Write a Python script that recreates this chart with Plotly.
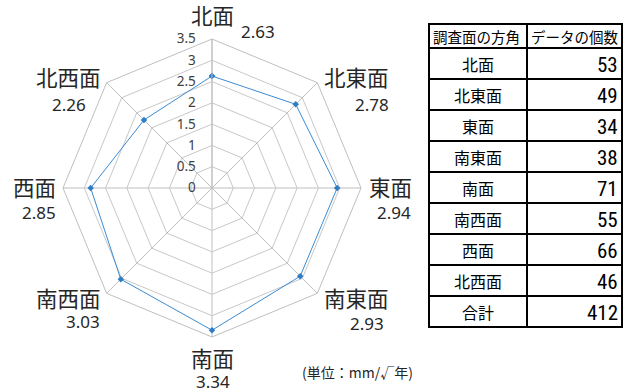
import plotly.graph_objects as go

# ---- data ----
directions = ["北面", "北東面", "東面", "南東面", "南面", "南西面", "西面", "北西面"]
rate_values = [2.63, 2.78, 2.94, 2.93, 3.34, 3.03, 2.85, 2.26]
data_counts = [53, 49, 34, 38, 71, 55, 66, 46]
total_label = "合計"
table_headers = ["調査面の方角", "データの個数"]
radial_ticks = [0, 0.5, 1, 1.5, 2, 2.5, 3, 3.5]
unit_text = "(単位：mm/√年)"

# ---- layout / styling ----
W, H = 632, 392
cx, cy, R = 212, 188, 149
CJK = "Noto Sans CJK JP"
NUM = "Noto Sans, Open Sans, sans-serif"
NARROW = "Liberation Sans Narrow, Roboto Condensed, DejaVu Sans Condensed, Liberation Sans"

# label offsets (pixels from polar centre) for name and value labels
name_off = [(0, -173), (144, -112), (178, -2), (144, 109),
            (0, 169), (-144, 109), (-178, -2), (-144, -112)]
val_off = [(46, -156), (160, -84), (182, 24), (155, 135),
           (1, 193), (-129, 133), (-173, 24), (-143, -84)]

# table geometry (pixels)
tx0, tcol, tx1 = 429, 527, 622
ty0, head_h, row_h = 24, 24, 31


def px(x, y):
    return x / W, 1 - y / H


fig = go.Figure()

fig.add_trace(go.Scatterpolar(
    r=rate_values + rate_values[:1],
    theta=directions + directions[:1],
    mode="lines+markers",
    line=dict(color="#3a8bd2", width=1),
    marker=dict(symbol="diamond", size=5, color="#2e7ec6"),
    hoverinfo="skip",
    showlegend=False,
))

annotations = []
shapes = []

# ---- chart labels ----
for name, val, no, vo in zip(directions, rate_values, name_off, val_off):
    x, y = px(cx + no[0], cy + no[1])
    annotations.append(dict(x=x, y=y, xref="paper", yref="paper", text=name,
                            showarrow=False, xanchor="center", yanchor="middle",
                            font=dict(family=CJK, size=21.5, color="#262626")))
    x, y = px(cx + vo[0], cy + vo[1])
    annotations.append(dict(x=x, y=y, xref="paper", yref="paper", text=f"{val:.2f}",
                            showarrow=False, xanchor="center", yanchor="middle",
                            font=dict(family=NUM, size=17, color="#262626")))
x, y = px(357, 372)
annotations.append(dict(x=x, y=y, xref="paper", yref="paper", text=unit_text,
                        showarrow=False, xanchor="center", yanchor="middle",
                        font=dict(family=CJK, size=14, color="#262626")))

# ---- table ----
row_names = directions + [total_label]
row_vals = [str(v) for v in data_counts] + [str(sum(data_counts))]
n_rows = len(row_names)
ty1 = ty0 + head_h + n_rows * row_h

line_style = dict(color="black", width=2)
X0, Y0 = px(tx0, ty0)
X1, Y1 = px(tx1, ty1)
shapes.append(dict(type="rect", xref="paper", yref="paper", x0=X0, x1=X1, y0=Y1, y1=Y0,
                   line=line_style, fillcolor="white", layer="below"))
XC, _ = px(tcol, 0)
shapes.append(dict(type="line", xref="paper", yref="paper", x0=XC, x1=XC, y0=Y1, y1=Y0,
                   line=line_style))
for i in range(n_rows):
    _, yy = px(0, ty0 + head_h + i * row_h)
    shapes.append(dict(type="line", xref="paper", yref="paper", x0=X0, x1=X1, y0=yy, y1=yy,
                       line=line_style))

# header text
for k, htxt in enumerate(table_headers):
    left = tx0 if k == 0 else tcol
    x, y = px(left + 2, ty0 + head_h / 2)
    annotations.append(dict(x=x, y=y, xref="paper", yref="paper", text=htxt,
                            showarrow=False, xanchor="left", yanchor="middle",
                            font=dict(family=CJK, size=14.5, color="black")))
# body text
for i, (nm, vv) in enumerate(zip(row_names, row_vals)):
    yc = ty0 + head_h + (i + 0.5) * row_h
    x, y = px((tx0 + tcol) / 2, yc)
    annotations.append(dict(x=x, y=y, xref="paper", yref="paper", text=nm,
                            showarrow=False, xanchor="center", yanchor="middle",
                            font=dict(family=CJK, size=16, color="black")))
    x, y = px(tx1 - 2, yc + 1)
    annotations.append(dict(x=x, y=y, xref="paper", yref="paper", text=vv,
                            showarrow=False, xanchor="right", yanchor="middle",
                            font=dict(family=NARROW, size=21, color="black")))

x0, y0 = px(cx - R, cy + R)
x1, y1 = px(cx + R, cy - R)
fig.update_layout(
    width=W, height=H,
    margin=dict(l=0, r=0, t=0, b=0),
    paper_bgcolor="white",
    plot_bgcolor="white",
    annotations=annotations,
    shapes=shapes,
    polar=dict(
        domain=dict(x=[x0, x1], y=[y0, y1]),
        gridshape="linear",
        bgcolor="white",
        angularaxis=dict(
            direction="clockwise", rotation=90,
            showticklabels=False, ticks="",
            categoryorder="array", categoryarray=directions,
            linecolor="#bfbfbf", linewidth=1,
            gridcolor="#bfbfbf", gridwidth=1,
        ),
        radialaxis=dict(
            range=[0, 3.5], tickvals=radial_ticks, angle=90, tickangle=90,
            side="counterclockwise",
            showline=True, linecolor="#bfbfbf", linewidth=1,
            gridcolor="#c8c8c8", gridwidth=1,
            ticks="outside", ticklen=11, tickcolor="rgba(0,0,0,0)",
            tickfont=dict(family=NUM, size=13.5, color="#404040"),
        ),
    ),
)

fig.write_html("out.html", config={"displayModeBar": False},
               post_script="document.body.style.margin='0';")
